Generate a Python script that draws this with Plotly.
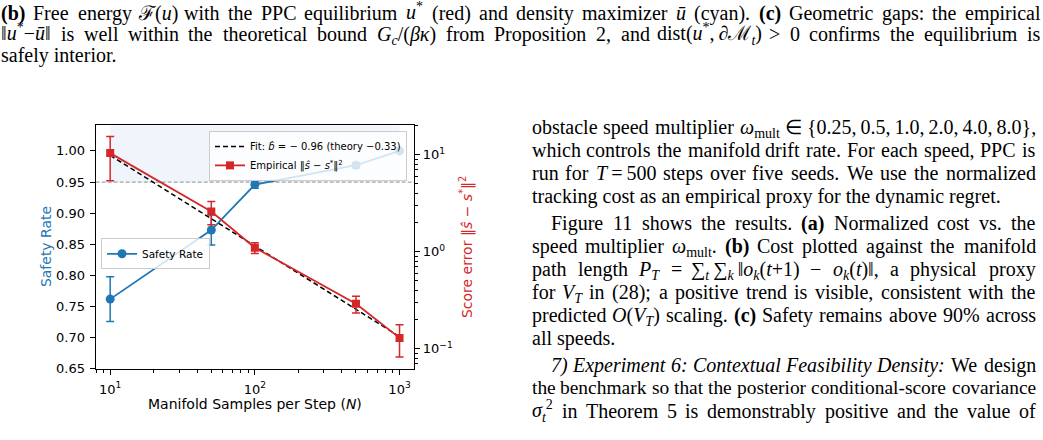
import re
import plotly.graph_objects as go

W, H = 1043, 440

# ---------------- data ----------------
N = [10, 50, 100, 500, 1000]
safety = [0.762, 0.873, 0.946, 0.977, 1.000]
safety_err = [0.036, 0.024, 0.006, 0.004, 0.0]
score_err = [10.4, 2.6, 1.10, 0.29, 0.129]
score_err_sd = [5.0, 0.7, 0.14, 0.057, 0.047]
fit_vals = [9.86, 2.19, 1.146, 0.254, 0.133]
safety_threshold = 0.95
band_top = 1.05

x_tickvals = [10, 100, 1000]
x_ticktext = ["10<sup>1</sup>", "10<sup>2</sup>", "10<sup>3</sup>"]
x_minor = [8, 9, 20, 30, 40, 50, 60, 70, 80, 90, 200, 300, 400, 500, 600, 700, 800, 900]
y_tickvals = [0.65, 0.70, 0.75, 0.80, 0.85, 0.90, 0.95, 1.00]
y2_tickvals = [0.1, 1, 10]
y2_ticktext = ["10<sup>\u22121</sup>", "10<sup>0</sup>", "10<sup>1</sup>"]
y2_minor = [0.07, 0.08, 0.09, 0.2, 0.3, 0.4, 0.5, 0.6, 0.7, 0.8, 0.9,
            2, 3, 4, 5, 6, 7, 8, 9, 20]

x_range_log = [0.9, 3.1]
y_range = [0.65, 1.041]
y2_range_log = [-1.209, 1.303]

TS = "\u2009"   # thin space

caption_lines = [
    "<b>(b)</b> Free energy \u2131(<i>u</i>) with the PPC equilibrium <i>u</i><sup>*</sup> (red) and density maximizer <i>\u016b</i> (cyan). <b>(c)</b> Geometric gaps: the empirical",
    "\u2016<i>u</i><sup>*</sup>\u2212<i>\u016b</i>\u2016 is well within the theoretical bound <i>G</i><sub><i>c</i></sub>/(<i>\u03b2\u03ba</i>) from Proposition 2, and dist(<i>u</i><sup>*</sup>," + TS + "\u2202\u2133<sub><i>t</i></sub>) > 0 confirms the equilibrium is",
    "safely interior.",
]
caption_justify = [True, True, False]

body_lines = [
    "obstacle speed multiplier <i>\u03c9</i><sub>mult</sub> \u2208 {0.25," + TS + "0.5," + TS + "1.0," + TS + "2.0," + TS + "4.0," + TS + "8.0},",
    "which controls the manifold drift rate. For each speed, PPC is",
    "run for <i>T</i>" + TS + "=" + TS + "500 steps over five seeds. We use the normalized",
    "tracking cost as an empirical proxy for the dynamic regret.",
    "Figure 11 shows the results. <b>(a)</b> Normalized cost vs. the",
    "speed multiplier <i>\u03c9</i><sub>mult</sub>. <b>(b)</b> Cost plotted against the manifold",
    "path length <i>P</i><sub><i>T</i></sub> = \u2211<sub><i>t</i></sub>" + TS + "\u2211<sub><i>k</i></sub>" + TS + "\u2016<i>o</i><sub><i>k</i></sub>(<i>t</i>+1) \u2212 <i>o</i><sub><i>k</i></sub>(<i>t</i>)\u2016, a physical proxy",
    "for <i>V</i><sub><i>T</i></sub> in (28); a positive trend is visible, consistent with the",
    "predicted <i>O</i>(<i>V</i><sub><i>T</i></sub>) scaling. <b>(c)</b> Safety remains above 90% across",
    "all speeds.",
    "<i>7)</i> <i>Experiment</i> <i>6:</i> <i>Contextual</i> <i>Feasibility</i> <i>Density:</i> We design",
    "the benchmark so that the posterior conditional-score covariance",
    "<i>\u03c3</i><sub><i>t</i></sub><sup>2</sup> in Theorem 5 is demonstrably positive and the value of",
]
body_justify = [True, True, True, False, True, True, True, True, True, False, True, True, True]

# ---------------- text geometry (pixels) ----------------
PL, PR, PT, PB = 95.7, 414.0, 127.7, 375.7
CAP_SIZE, BODY_SIZE = 20, 20
caption_base = [19.5, 41.5, 63.0]
caption_left, caption_right = 1.0, 1040.5
body_base = [136, 159.5, 183, 206.3, 234, 257.5, 280.5, 303.7, 327.2, 350.6, 378.3, 401.5, 424.8]
body_left = [531.5, 531.5, 531.5, 531.5, 551, 531.5, 531.5, 531.5, 531.5, 531.5, 551, 531.5, 531.5]
body_right = 1035.5
ASC = 0.891        # Liberation Serif ascent (em)
SUP_RAISE = 0.153  # extra bbox height above the line produced by <sup> (em)
MIN_GAP = 5.0      # smallest inter-word gap (px) before the line font is shrunk

# approximate Times / Liberation Serif advance widths (1/1000 em)
ROMAN = {" ": 250, "!": 333, "(": 333, ")": 333, "*": 500, "+": 564, ",": 250, "-": 333,
         ".": 250, "/": 278, ":": 278, ";": 278, "=": 564, ">": 564, "%": 833, "{": 480,
         "}": 480, "[": 333, "]": 333}
for c in "0123456789":
    ROMAN[c] = 500
ROMAN.update(dict(zip("ABCDEFGHIJKLMNOPQRSTUVWXYZ",
                      [722, 667, 667, 722, 611, 556, 722, 722, 333, 389, 722, 611, 889, 722,
                       722, 556, 722, 667, 556, 611, 722, 722, 944, 722, 722, 611])))
ROMAN.update(dict(zip("abcdefghijklmnopqrstuvwxyz",
                      [444, 500, 444, 500, 444, 333, 500, 500, 278, 278, 500, 278, 778, 500,
                       500, 500, 500, 333, 389, 278, 500, 500, 722, 500, 500, 444])))
ITALIC = dict(ROMAN)
ITALIC.update(dict(zip("ABCDEFGHIJKLMNOPQRSTUVWXYZ",
                       [611, 611, 667, 722, 611, 611, 722, 722, 333, 444, 667, 556, 833, 667,
                        722, 611, 722, 611, 500, 556, 722, 611, 833, 611, 556, 556])))
ITALIC.update(dict(zip("abcdefghijklmnopqrstuvwxyz",
                       [500, 500, 444, 500, 444, 278, 500, 500, 278, 278, 444, 278, 722, 500,
                        500, 500, 500, 389, 389, 278, 500, 444, 667, 444, 444, 389])))
ITALIC[":"] = 333
BOLD = dict(ROMAN)
BOLD.update({"a": 500, "b": 556, "c": 444, "(": 333, ")": 333})
OTHER = {"\u03c9": 686, "\u03c3": 560, "\u03b2": 500, "\u03ba": 500, "\u2208": 670,
         "\u2016": 300, "\u2212": 564, "\u2211": 600, "\u2202": 494, "\u2131": 620,
         "\u2133": 900, "\u016b": 500, "\u015d": 389, "\u2009": 200, "\u2005": 250}


def text_width(html, size):
    w, scale, italic, bold = 0.0, 1.0, False, False
    for tag, ch in re.findall(r"(<[^>]+>)|(.)", html):
        if tag:
            closing = tag.startswith("</")
            t = tag.strip("</>").lower()
            if t in ("sub", "sup"):
                scale = scale / 0.7 if closing else scale * 0.7
            elif t == "i":
                italic = not closing
            elif t == "b":
                bold = not closing
            continue
        table = BOLD if bold else (ITALIC if italic else ROMAN)
        cw = table.get(ch, OTHER.get(ch, 500))
        w += cw / 1000.0 * size * scale
    return w


def text_ann(text, x, y_top, size, xanchor="left", yshift=0):
    return dict(text=text, x=x / W, y=1 - y_top / H, xref="paper", yref="paper",
                xanchor=xanchor, yanchor="top", showarrow=False, borderpad=0, borderwidth=0,
                yshift=yshift, font=dict(family="Liberation Serif", size=size, color="black"))


def set_line(text, left, right, baseline, size, justify):
    """Place one text line; justified lines are set word by word."""
    words = text.split(" ")
    if not justify or len(words) == 1:
        y_top = baseline - ASC * size
        ys = SUP_RAISE * size if "<sup>" in text else 0
        return [text_ann(text, left, y_top, size, yshift=ys)]
    widths = [text_width(wd, size) for wd in words]
    gap = (right - left - sum(widths)) / (len(words) - 1)
    if gap < MIN_GAP:
        size = size * (right - left - MIN_GAP * (len(words) - 1)) / sum(widths)
        widths = [text_width(wd, size) for wd in words]
        gap = MIN_GAP
    y_top = baseline - ASC * size
    out = []
    x = left
    last = len(words) - 1
    for i, (wd, ww) in enumerate(zip(words, widths)):
        ys = SUP_RAISE * size if "<sup>" in wd else 0
        if i == 0:
            out.append(text_ann(wd, left, y_top, size, xanchor="left", yshift=ys))
        elif i == last:
            out.append(text_ann(wd, right, y_top, size, xanchor="right", yshift=ys))
        else:
            out.append(text_ann(wd, x + ww / 2, y_top, size, xanchor="center", yshift=ys))
        x += ww + gap
    return out


BLUE = "#1f77b4"
RED = "#d62728"
CHART_FONT = "DejaVu Sans"

fig = go.Figure()

# shaded safe region
fig.add_trace(go.Scatter(x=N, y=[band_top] * len(N), mode="lines",
                         line=dict(width=0), showlegend=False, hoverinfo="skip"))
fig.add_trace(go.Scatter(x=N, y=[safety_threshold] * len(N), mode="lines",
                         line=dict(width=0), fill="tonexty",
                         fillcolor="rgba(31,119,180,0.07)",
                         showlegend=False, hoverinfo="skip"))
# threshold line across the full axis
fig.add_trace(go.Scatter(x=[10 ** x_range_log[0], 10 ** x_range_log[1]],
                         y=[safety_threshold, safety_threshold], mode="lines",
                         line=dict(color="rgba(128,128,128,0.7)", width=1.2, dash="4px,2px"),
                         showlegend=False, hoverinfo="skip"))
# safety rate
fig.add_trace(go.Scatter(x=N, y=safety, mode="lines+markers", name="Safety Rate",
                         line=dict(color=BLUE, width=1.8),
                         marker=dict(color=BLUE, size=9, symbol="circle"),
                         error_y=dict(type="data", array=safety_err, color=BLUE,
                                      thickness=1.5, width=4),
                         legend="legend2"))
# fit line
fig.add_trace(go.Scatter(x=N, y=fit_vals, mode="lines",
                         name="Fit: <i>b</i>\u0302 = \u2212 0.96 (theory \u22120.33)",
                         line=dict(color="black", width=1.5, dash="5px,3px"),
                         yaxis="y2", legend="legend", legendrank=1))
# empirical score error
fig.add_trace(go.Scatter(x=N, y=score_err, mode="lines+markers",
                         name="Empirical \u2016<i>\u015d</i> \u2212 <i>s</i><sup>*</sup>\u2016<sup>2</sup>",
                         line=dict(color=RED, width=1.8),
                         marker=dict(color=RED, size=8, symbol="square"),
                         error_y=dict(type="data", array=score_err_sd, color=RED,
                                      thickness=1.5, width=4),
                         yaxis="y2", legend="legend", legendrank=2))

tickfont = dict(family=CHART_FONT, size=13, color="black")

annotations = []
for txt, yb, j in zip(caption_lines, caption_base, caption_justify):
    annotations += set_line(txt, caption_left, caption_right, yb, CAP_SIZE, j)
for txt, yb, xl, j in zip(body_lines, body_base, body_left, body_justify):
    annotations += set_line(txt, xl, body_right, yb, BODY_SIZE, j)

# axis titles
annotations.append(dict(text="Safety Rate", x=46 / W, y=1 - 251.7 / H, xref="paper", yref="paper",
                        textangle=-90, showarrow=False, xanchor="center", yanchor="middle",
                        font=dict(family=CHART_FONT, size=14, color=BLUE)))
annotations.append(dict(text="Score error \u2016<i>\u015d</i> \u2212 <i>s</i><sup>*</sup>\u2016<sup>2</sup>",
                        x=466 / W, y=1 - 251.7 / H, xref="paper", yref="paper",
                        textangle=-90, showarrow=False, xanchor="center", yanchor="middle",
                        font=dict(family=CHART_FONT, size=14, color=RED)))
annotations.append(dict(text="Manifold Samples per Step (<i>N</i>)", x=254.9 / W, y=1 - 411 / H,
                        xref="paper", yref="paper", showarrow=False,
                        xanchor="center", yanchor="middle",
                        font=dict(family=CHART_FONT, size=14, color="black")))

fig.update_layout(
    width=W, height=H,
    margin=dict(l=0, r=0, t=0, b=0),
    paper_bgcolor="white", plot_bgcolor="white",
    xaxis=dict(type="log", range=x_range_log, domain=[PL / W, PR / W],
               tickvals=x_tickvals, ticktext=x_ticktext, ticks="outside",
               ticklen=5, tickwidth=1.2, tickcolor="black", ticklabelstandoff=3,
               minor=dict(tickvals=x_minor, ticks="outside", ticklen=3, tickwidth=1, tickcolor="black"),
               showline=True, linecolor="black", linewidth=1.3, mirror=True,
               showgrid=False, zeroline=False, tickfont=tickfont),
    yaxis=dict(range=y_range, domain=[1 - PB / H, 1 - PT / H],
               tickvals=y_tickvals, tickformat=".2f", ticks="outside",
               ticklen=5, tickwidth=1.2, tickcolor="black", ticklabelstandoff=2,
               showline=True, linecolor="black", linewidth=1.3,
               showgrid=False, zeroline=False, tickfont=tickfont),
    yaxis2=dict(type="log", range=y2_range_log, overlaying="y", side="right",
                anchor="x", tickvals=y2_tickvals, ticktext=y2_ticktext,
                ticks="outside", ticklen=5, tickwidth=1.2, tickcolor="black",
                minor=dict(tickvals=y2_minor, ticks="outside", ticklen=3, tickwidth=1, tickcolor="black"),
                showline=True, linecolor="black", linewidth=1.3,
                showgrid=False, zeroline=False, tickfont=tickfont),
    legend=dict(x=209 / W, y=1 - 133.3 / H, xanchor="left", yanchor="top",
                bgcolor="rgba(255,255,255,0.8)", bordercolor="#cccccc", borderwidth=1,
                font=dict(family=CHART_FONT, size=10, color="black"),
                traceorder="normal", tracegroupgap=0),
    legend2=dict(x=101 / W, y=1 - 242.7 / H, xanchor="left", yanchor="top",
                 bgcolor="rgba(255,255,255,0.8)", bordercolor="#cccccc", borderwidth=1,
                 font=dict(family=CHART_FONT, size=10.5, color="black")),
    annotations=annotations,
    showlegend=True,
)

fig.write_html("out.html")
